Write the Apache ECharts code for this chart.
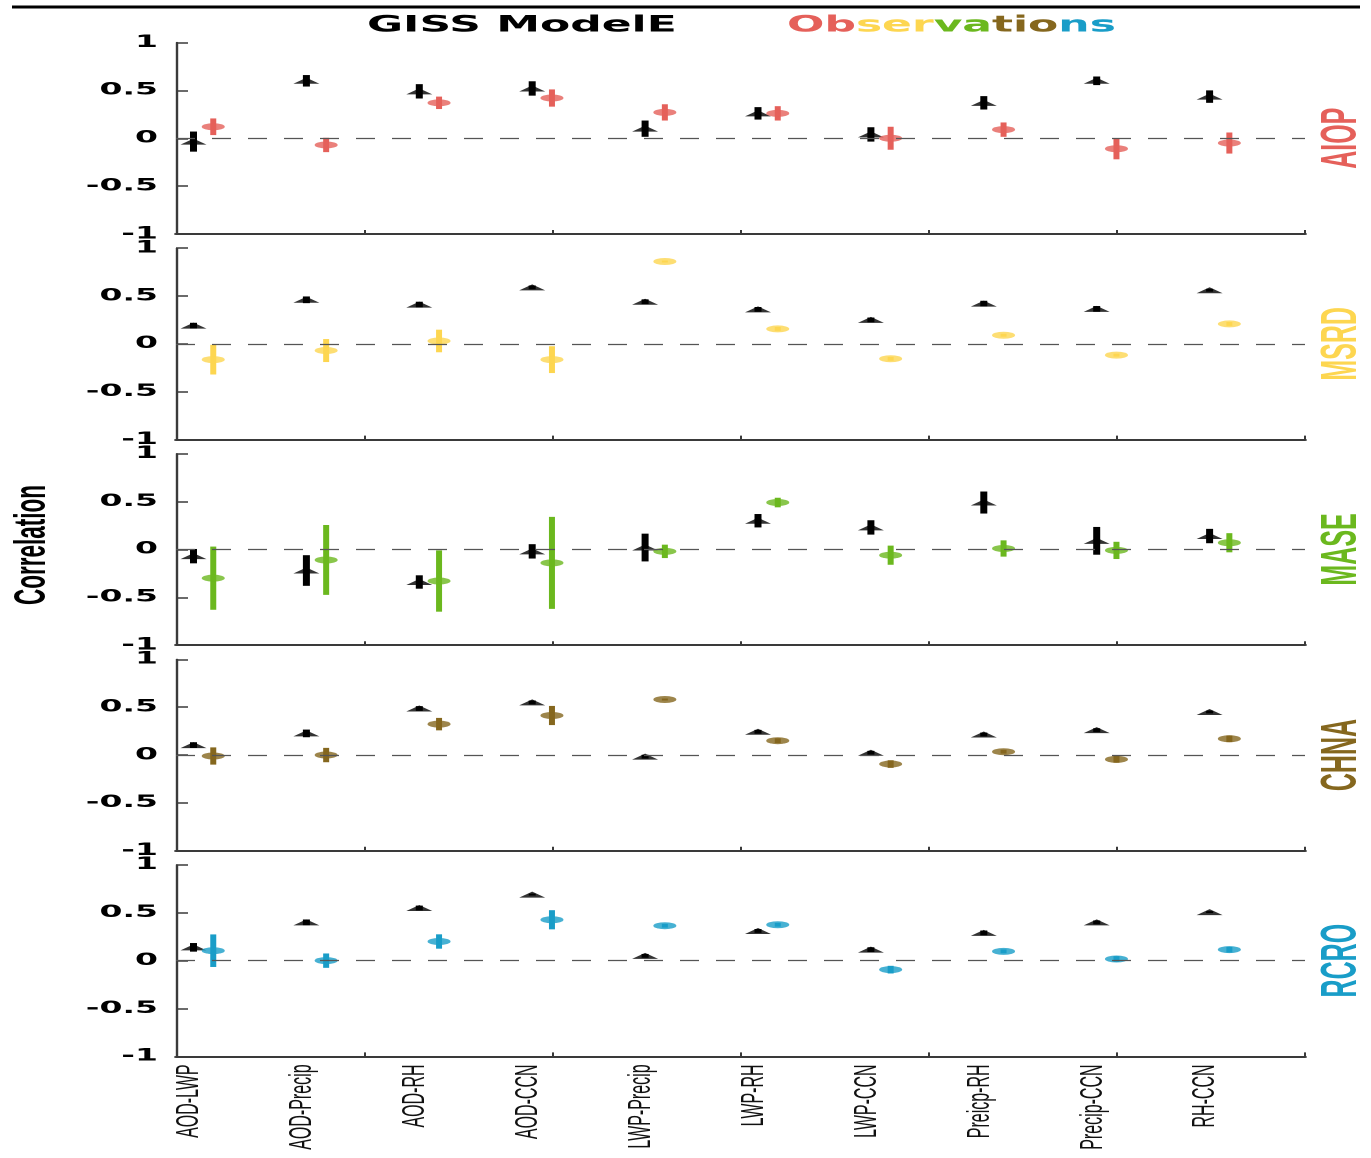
<!DOCTYPE html>
<html>
<head>
<meta charset="utf-8">
<title>GISS ModelE vs Observations - correlations</title>
<script src="https://cdn.jsdelivr.net/npm/echarts@6/dist/echarts.min.js"></script>
<style>
  html, body { margin: 0; padding: 0; overflow: hidden; background: #fff; }
  /* The figure is laid out at half width and stretched horizontally */
  #chart { width: 685.5px; height: 1158px; transform: scaleX(2); transform-origin: 0 0; }
</style>
</head>
<body>
<div id="chart"></div>
<script>
// ---- data ---------------------------------------------------------------
const categories = ['AOD-LWP', 'AOD-Precip', 'AOD-RH', 'AOD-CCN', 'LWP-Precip',
                    'LWP-RH', 'LWP-CCN', 'Preicp-RH', 'Precip-CCN', 'RH-CCN'];
const regions = ['AIOP', 'MSRD', 'MASE', 'CHNA', 'RCRO'];
const regionColors = ['#E5605A', '#FDD650', '#6BB81E', '#85671E', '#199DC8'];

// GISS ModelE correlations (value, half-width of the error bar)
const aiopModel    = [-0.035, 0.60, 0.49, 0.52, 0.10, 0.26, 0.04, 0.37, 0.60, 0.435];
const aiopModelErr = [0.105, 0.06, 0.075, 0.075, 0.085, 0.065, 0.075, 0.07, 0.045, 0.065];
const msrdModel    = [0.19, 0.46, 0.41, 0.59, 0.44, 0.36, 0.25, 0.42, 0.365, 0.56];
const msrdModelErr = [0.03, 0.035, 0.03, 0.02, 0.025, 0.025, 0.025, 0.03, 0.03, 0.015];
const maseModel    = [-0.07, -0.22, -0.34, -0.02, 0.02, 0.30, 0.23, 0.49, 0.09, 0.14];
const maseModelErr = [0.075, 0.16, 0.07, 0.075, 0.145, 0.07, 0.075, 0.115, 0.145, 0.075];
const chnaModel    = [0.104, 0.226, 0.486, 0.55, -0.017, 0.243, 0.024, 0.215, 0.26, 0.45];
const chnaModelErr = [0.03, 0.04, 0.025, 0.02, 0.02, 0.02, 0.02, 0.02, 0.02, 0.015];
const rcroModel    = [0.139, 0.40, 0.55, 0.69, 0.05, 0.31, 0.115, 0.29, 0.40, 0.507];
const rcroModelErr = [0.045, 0.03, 0.025, 0.01, 0.02, 0.02, 0.025, 0.025, 0.02, 0.01];

// Observed correlations (value, half-width of the error bar)
const aiopObs    = [0.12, -0.07, 0.37, 0.42, 0.27, 0.26, 0.00, 0.09, -0.11, -0.05];
const aiopObsErr = [0.087, 0.075, 0.065, 0.09, 0.085, 0.075, 0.12, 0.075, 0.11, 0.11];
const msrdObs    = [-0.165, -0.07, 0.03, -0.165, 0.86, 0.156, -0.156, 0.09, -0.118, 0.208];
const msrdObsErr = [0.155, 0.12, 0.118, 0.14, 0.01, 0.02, 0.02, 0.015, 0.015, 0.02];
const maseObs    = [-0.30, -0.11, -0.33, -0.14, -0.02, 0.49, -0.06, 0.01, -0.01, 0.07];
const maseObsErr = [0.33, 0.365, 0.32, 0.48, 0.07, 0.05, 0.10, 0.085, 0.09, 0.10];
const chnaObs    = [-0.01, 0.0, 0.323, 0.413, 0.58, 0.15, -0.094, 0.035, -0.045, 0.17];
const chnaObsErr = [0.09, 0.075, 0.065, 0.10, 0.01, 0.025, 0.04, 0.02, 0.035, 0.035];
const rcroObs    = [0.104, 0.0, 0.20, 0.427, 0.365, 0.375, -0.094, 0.097, 0.017, 0.115];
const rcroObsErr = [0.17, 0.075, 0.075, 0.10, 0.02, 0.02, 0.04, 0.02, 0.03, 0.03];

const yTickStep = 0.5;

// ---- layout ---------------------------------------------------------------
const modelSets = [[aiopModel, aiopModelErr], [msrdModel, msrdModelErr], [maseModel, maseModelErr],
                   [chnaModel, chnaModelErr], [rcroModel, rcroModelErr]];
const obsSets = [[aiopObs, aiopObsErr], [msrdObs, msrdObsErr], [maseObs, maseObsErr],
                 [chnaObs, chnaObsErr], [rcroObs, rcroObsErr]];

const GRID_LEFT = 88, GRID_WIDTH = 564.5;
const GRID_TOP0 = 42.5, GRID_STEP = 205.6, GRID_H = 191.5;
const MODEL_DX = 0.155, OBS_DX = 0.33, LABEL_DX = 0.12;
const X_MAX = categories.length;
const xTickValues = [0, 1, 2, 3, 4, 5, 6].map(k => k * X_MAX / 6);
const xLabelValues = categories.map((c, i) => i + LABEL_DX);
const AXIS_COLOR = '#3a3a3a';

function errorBarRenderer(color, width) {
  return function (params, api) {
    const x = api.value(0);
    const p1 = api.coord([x, api.value(2)]);
    const p2 = api.coord([x, api.value(3)]);
    return {
      type: 'line',
      shape: { x1: p1[0], y1: p1[1], x2: p2[0], y2: p2[1] },
      style: { stroke: color, lineWidth: width, lineCap: 'butt' }
    };
  };
}

const grids = [], xAxes = [], yAxes = [], series = [], graphics = [];

regions.forEach((name, k) => {
  const top = GRID_TOP0 + GRID_STEP * k;
  grids.push({ left: GRID_LEFT, width: GRID_WIDTH, top: top, height: GRID_H });

  const isBottom = k === regions.length - 1;
  xAxes.push({
    gridIndex: k, type: 'value', min: 0, max: X_MAX,
    axisLine: { show: true, onZero: false, lineStyle: { color: AXIS_COLOR, width: 2 } },
    axisTick: { show: true, inside: true, length: 4, customValues: xTickValues,
                lineStyle: { color: AXIS_COLOR, width: 1 } },
    axisLabel: isBottom ? {
      show: true, customValues: xLabelValues, rotate: 90, margin: 8,
      fontFamily: 'Liberation Sans, Arial, sans-serif', fontSize: 16, color: '#111',
      formatter: v => categories[Math.round(v - LABEL_DX)]
    } : { show: false },
    splitLine: { show: false }
  });
  yAxes.push({
    gridIndex: k, type: 'value', min: -1, max: 1, interval: yTickStep,
    axisLine: { show: true, onZero: false, lineStyle: { color: AXIS_COLOR, width: 1.2 } },
    axisTick: { show: true, inside: true, length: 6, lineStyle: { color: AXIS_COLOR, width: 1.5 } },
    axisLabel: { fontFamily: 'DejaVu Sans', fontWeight: 'bold', fontSize: 16.5, color: '#000', margin: 9 },
    splitLine: { show: false }
  });

  const [mv, me] = modelSets[k];
  const [ov, oe] = obsSets[k];
  const color = regionColors[k];

  // model error bars, with the dashed zero line
  series.push({
    name: 'GISS ModelE ' + name, type: 'custom', xAxisIndex: k, yAxisIndex: k, silent: true,
    renderItem: errorBarRenderer('#000', 3.5),
    encode: { x: 0, y: [1, 2, 3] },
    data: mv.map((v, i) => [i + MODEL_DX, v, v - me[i], v + me[i]]),
    markLine: {
      silent: true, symbol: 'none', label: { show: false },
      lineStyle: { color: '#555', width: 1.3, type: [9.5, 8.5] },
      data: [{ yAxis: 0 }]
    }
  });
  series.push({
    name: 'GISS ModelE ' + name + ' marker', type: 'scatter', xAxisIndex: k, yAxisIndex: k, silent: true,
    symbol: 'triangle', symbolSize: [13, 6],
    itemStyle: { color: '#000' },
    data: mv.map((v, i) => [i + MODEL_DX, v])
  });
  // observation error bars and markers
  series.push({
    name: 'Observations ' + name, type: 'custom', xAxisIndex: k, yAxisIndex: k, silent: true,
    renderItem: errorBarRenderer(color, 3),
    encode: { x: 0, y: [1, 2, 3] },
    data: ov.map((v, i) => [i + OBS_DX, v, v - oe[i], v + oe[i]])
  });
  series.push({
    name: 'Observations ' + name + ' marker', type: 'scatter', xAxisIndex: k, yAxisIndex: k, silent: true,
    symbol: 'circle', symbolSize: [11.5, 7],
    itemStyle: { color: color },
    data: ov.map((v, i) => [i + OBS_DX, v])
  });

  // region name on the right
  graphics.push({
    type: 'text', x: 671, y: top + GRID_H / 2, rotation: Math.PI / 2, silent: true,
    style: { text: name, fill: color, fontSize: 25, fontWeight: 'bold',
             fontFamily: 'Liberation Sans, Arial, sans-serif',
             align: 'center', verticalAlign: 'middle' }
  });
});

// frame rule, titles and the shared y-axis name
graphics.push({ type: 'rect', silent: true, shape: { x: 6, y: 5.5, width: 674, height: 3 }, style: { fill: '#000' } });
graphics.push({
  type: 'text', x: 183.5, y: 26, silent: true,
  style: { text: 'GISS ModelE', fill: '#000', fontSize: 22, fontWeight: 'bold', fontFamily: 'DejaVu Sans',
           align: 'left', verticalAlign: 'middle' }
});
graphics.push({
  type: 'text', x: 393.5, y: 26, silent: true,
  style: {
    text: '{a|Ob}{b|ser}{c|va}{d|tio}{e|ns}',
    fontSize: 22, fontWeight: 'bold', fontFamily: 'DejaVu Sans', align: 'left', verticalAlign: 'middle',
    rich: {
      a: { fill: regionColors[0], fontSize: 22, fontWeight: 'bold', fontFamily: 'DejaVu Sans' },
      b: { fill: regionColors[1], fontSize: 22, fontWeight: 'bold', fontFamily: 'DejaVu Sans' },
      c: { fill: regionColors[2], fontSize: 22, fontWeight: 'bold', fontFamily: 'DejaVu Sans' },
      d: { fill: regionColors[3], fontSize: 22, fontWeight: 'bold', fontFamily: 'DejaVu Sans' },
      e: { fill: regionColors[4], fontSize: 22, fontWeight: 'bold', fontFamily: 'DejaVu Sans' }
    }
  }
});
graphics.push({
  type: 'text', x: 16.5, y: 545, rotation: Math.PI / 2, silent: true,
  style: { text: 'Correlation', fill: '#000', fontSize: 22.5, fontWeight: 'bold',
           fontFamily: 'Liberation Sans, Arial, sans-serif',
           align: 'center', verticalAlign: 'middle' }
});

const chart = echarts.init(document.getElementById('chart'), null, { renderer: 'canvas', devicePixelRatio: 2 });
chart.setOption({
  backgroundColor: '#fff',
  animation: false,
  grid: grids,
  xAxis: xAxes,
  yAxis: yAxes,
  series: series,
  graphic: graphics
});
</script>
</body>
</html>
